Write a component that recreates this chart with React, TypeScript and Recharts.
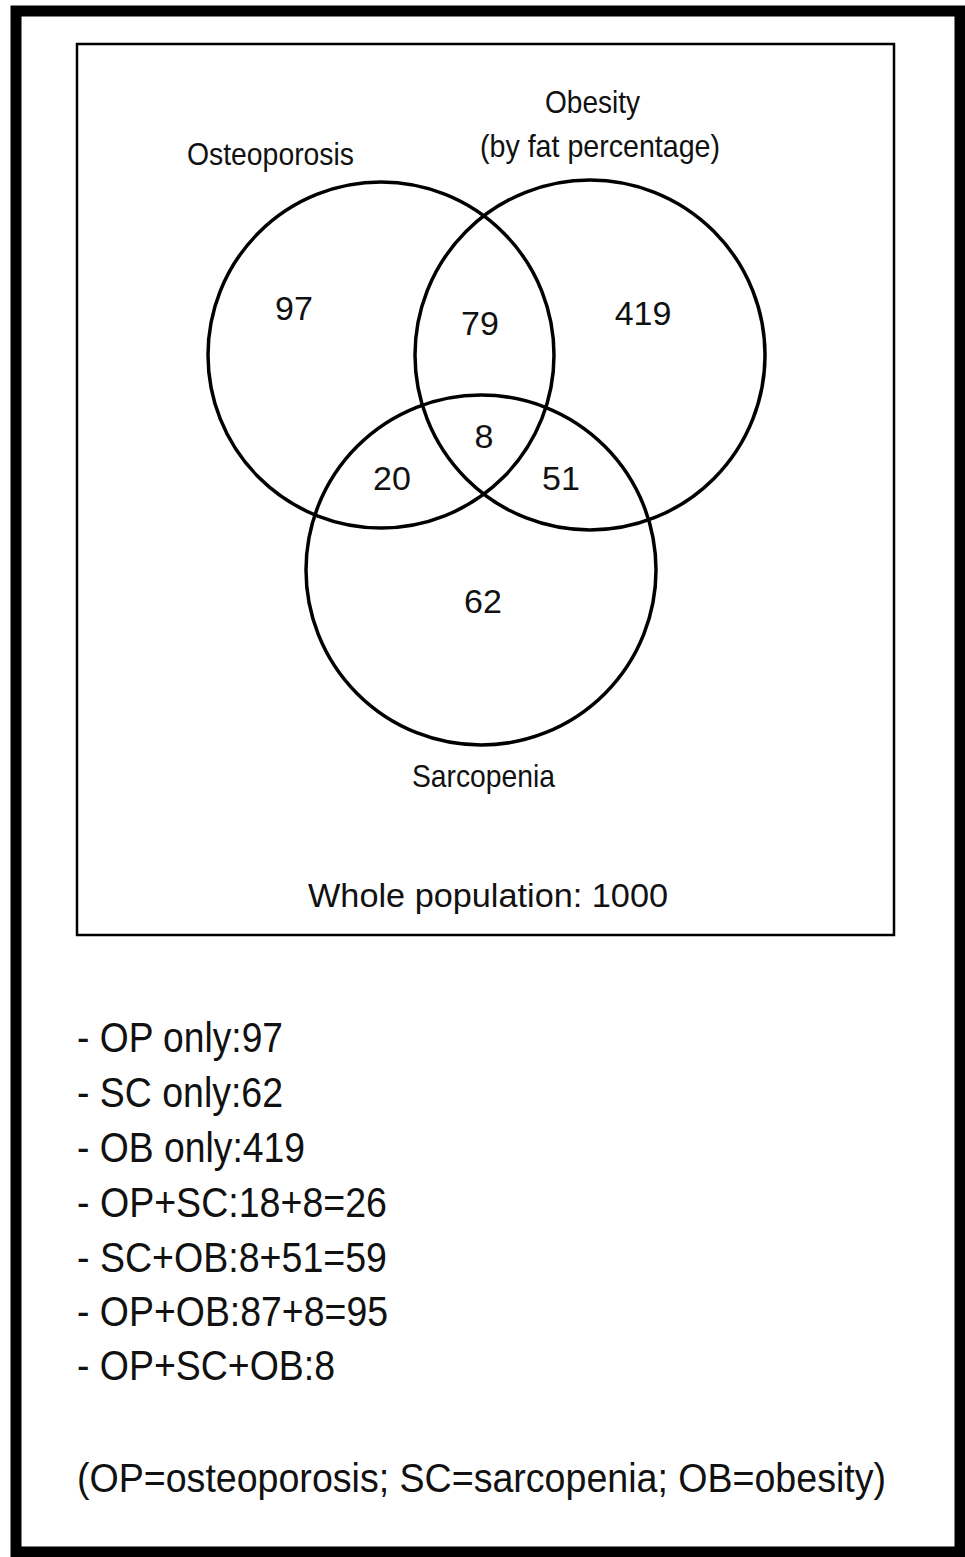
import { ScatterChart, Scatter, XAxis, YAxis, ReferenceArea } from "recharts";

const W = 965;
const H = 1557;
const FONT = "'Liberation Sans', Arial, sans-serif";

// the three sets (circle centre and radius in page pixels)
const setNames = ["Osteoporosis", "Obesity", "Sarcopenia"];
const setCx = [381, 590, 481];
const setCy = [355, 355, 570];
const setR = [173, 175, 175];

// region counts inside the diagram
const regionNames = ["OP only", "OP+OB", "OB only", "OP+SC+OB", "OP+SC", "SC+OB", "SC only"];
const regionCounts = [97, 79, 419, 8, 20, 51, 62];
const regionX = [294, 480, 643, 484, 392, 561, 483];
const regionY = [320, 335, 325, 448, 490, 490, 613];

const setLabels = ["Osteoporosis", "Obesity", "(by fat percentage)", "Sarcopenia", "Whole population: 1000"];
const setLabelX = [187, 545, 480, 412, 308];
const setLabelY = [165, 113, 157, 787, 907];
const setLabelW = [167, 95, 240, 143, 360];
const setLabelSize = [32, 32, 32, 32, 34];

const summaryLines = [
  "- OP only:97",
  "- SC only:62",
  "- OB only:419",
  "- OP+SC:18+8=26",
  "- SC+OB:8+51=59",
  "- OP+OB:87+8=95",
  "- OP+SC+OB:8",
  "(OP=osteoporosis; SC=sarcopenia; OB=obesity)",
];
const summaryY = [1052, 1107, 1162, 1217, 1272, 1326, 1380, 1492];
const summaryW = [206, 206, 228, 310, 310, 311, 258, 809];
const summarySize = [43, 43, 43, 43, 43, 43, 43, 40];

const circles = setNames.map((name, i) => ({ name, x: setCx[i], y: setCy[i], r: setR[i] }));
const regions = regionNames.map((name, i) => ({ name, count: regionCounts[i], x: regionX[i], y: regionY[i] }));
const labels = setLabels.map((text, i) => ({
  text,
  x: setLabelX[i],
  y: setLabelY[i],
  w: setLabelW[i],
  size: setLabelSize[i],
}));
const lines = summaryLines.map((text, i) => ({ text, x: 77, y: summaryY[i], w: summaryW[i], size: summarySize[i] }));

const CircleShape = (props: any) => (
  <circle cx={props.cx} cy={props.cy} r={props.payload.r} fill="none" stroke="#000" strokeWidth={3.5} />
);

const CountShape = (props: any) => (
  <text x={props.cx} y={props.cy} textAnchor="middle" fontSize={34} fontFamily={FONT} fill="#111">
    {props.payload.count}
  </text>
);

const TextShape = (props: any) => (
  <text
    x={props.cx}
    y={props.cy}
    textAnchor="start"
    fontSize={props.payload.size}
    fontFamily={FONT}
    fill="#111"
    textLength={props.payload.w}
    lengthAdjust="spacingAndGlyphs"
  >
    {props.payload.text}
  </text>
);

export default function App() {
  return (
    <div style={{ position: "absolute", left: 0, top: 0, background: "#fff" }}>
      <ScatterChart width={W} height={H} margin={{ top: 0, right: 0, bottom: 0, left: 0 }}>
        <XAxis type="number" dataKey="x" domain={[0, W]} hide allowDataOverflow />
        <YAxis type="number" dataKey="y" domain={[0, H]} reversed hide allowDataOverflow />
        <ReferenceArea x1={16} x2={960} y1={11} y2={1552} fill="none" stroke="#000" strokeWidth={11} ifOverflow="visible" />
        <ReferenceArea x1={77} x2={894} y1={44} y2={935} fill="none" stroke="#000" strokeWidth={2.5} ifOverflow="visible" />
        <Scatter data={circles} shape={CircleShape} isAnimationActive={false} />
        <Scatter data={regions} shape={CountShape} isAnimationActive={false} />
        <Scatter data={labels} shape={TextShape} isAnimationActive={false} />
        <Scatter data={lines} shape={TextShape} isAnimationActive={false} />
      </ScatterChart>
    </div>
  );
}
